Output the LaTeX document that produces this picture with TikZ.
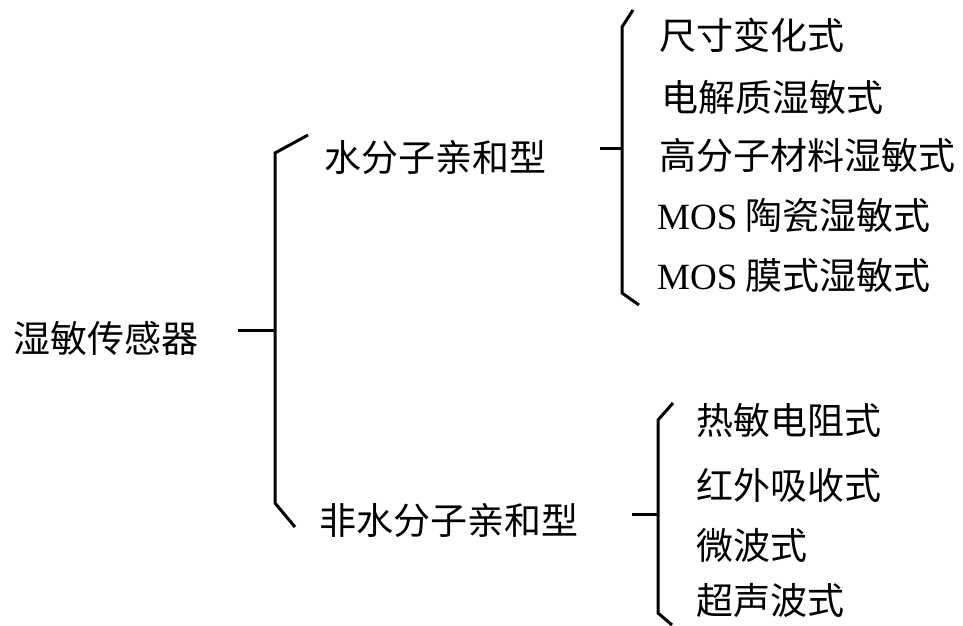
\documentclass[tikz,border=0pt]{standalone}
\usepackage{fontspec}
\setmainfont{Liberation Serif}
\newfontfamily\cjk{Noto Sans CJK SC}
\begin{document}
\begin{tikzpicture}[x=1pt,y=-1pt,
  lbl/.style={anchor=west,inner sep=0pt,font=\fontsize{37}{37}\selectfont\cjk},
  brk/.style={line width=3pt,line cap=butt,line join=miter}]
\useasboundingbox (0,0) rectangle (963,625);
% texts
\node[lbl] (root) at (13,338) {湿敏传感器};
\node[lbl] (w) at (324,157) {水分子亲和型};
\node[lbl] (nw) at (319,520) {非水分子亲和型};
\node[lbl] (a1) at (659,35) {尺寸变化式};
\node[lbl] (a2) at (661,97) {电解质湿敏式};
\node[lbl] (a3) at (659,155) {高分子材料湿敏式};
\node[lbl] (a4) at (657,215) {{\fontsize{37}{37}\selectfont\rmfamily MOS} 陶瓷湿敏式};
\node[lbl] (a5) at (657,275) {{\fontsize{37}{37}\selectfont\rmfamily MOS} 膜式湿敏式};
\node[lbl] (b1) at (696,420) {热敏电阻式};
\node[lbl] (b2) at (696,485) {红外吸收式};
\node[lbl] (b3) at (696,545) {微波式};
\node[lbl] (b4) at (696,600) {超声波式};
% bracket 1
\coordinate (s1) at (238,330);
\coordinate (m1) at (275,330);
\coordinate (t1) at (308,135);
\coordinate (u1) at (295,527);
\draw[brk] (t1) -- (275,153) -- (275,503) -- (u1);
\draw[brk] (s1) -- (m1);
% bracket 2
\coordinate (s2) at (600,148);
\coordinate (m2) at (622,148);
\coordinate (t2) at (633,10);
\coordinate (u2) at (639,305);
\draw[brk] (t2) -- (622,27) -- (622,293) -- (u2);
\draw[brk] (s2) -- (m2);
% bracket 3
\coordinate (s3) at (632,514);
\coordinate (m3) at (658,514);
\coordinate (t3) at (673,403);
\coordinate (u3) at (672,625);
\draw[brk] (t3) -- (658,420) -- (658,613) -- (u3);
\draw[brk] (s3) -- (m3);
\end{tikzpicture}
\end{document}
